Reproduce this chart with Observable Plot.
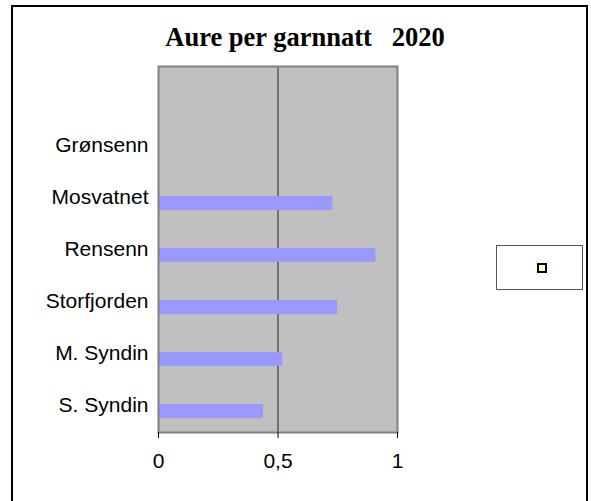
<!DOCTYPE html>
<html>
<head>
<meta charset="utf-8">
<script src="https://cdn.jsdelivr.net/npm/d3@7"></script>
<script src="https://cdn.jsdelivr.net/npm/@observablehq/plot@0.6"></script>
<style>
  html, body { margin: 0; padding: 0; background: #fff; }
  #wrap { position: relative; width: 591px; height: 501px; overflow: hidden; }
  #frame { position: absolute; left: 11px; top: 5px; width: 577px; height: 520px; border: 2px solid #000; box-sizing: border-box; }
  #title { position: absolute; left: 0; width: 610px; top: 22px; text-align: center; font-family: "Liberation Serif", "Times New Roman", serif; font-weight: bold; font-size: 26.5px; white-space: pre; color: #000; line-height: 30px; }
  #legend { position: absolute; left: 496px; top: 245px; width: 87px; height: 45px; border: 1px solid #555; box-sizing: border-box; background: #fff; }
  #legend .mk { position: absolute; left: 40px; top: 17px; width: 10px; height: 10px; background: #ffffcc; border: 2px solid #000; box-sizing: border-box; }
  #chart { position: absolute; left: 0; top: 0; }
</style>
</head>
<body>
<div id="wrap">
  <div id="frame"></div>
  <div id="chart"></div>
  <div id="title">Aure per garnnatt   2020</div>
  <div id="legend"><div class="mk"></div></div>
</div>
<script>
const lakes = ["", "Grønsenn", "Mosvatnet", "Rensenn", "Storfjorden", "M. Syndin", "S. Syndin"];
const values = [null, null, 0.73, 0.91, 0.75, 0.52, 0.44];
const xTicks = [0, 0.5, 1];

const data = lakes.map((lake, i) => ({lake, value: values[i]})).filter(d => d.value != null);
const fmt = d => String(d).replace(".", ",");

const chart = Plot.plot({
  width: 591,
  height: 501,
  marginLeft: 158,
  marginRight: 194,
  marginTop: 66,
  marginBottom: 69,
  style: {background: "transparent", fontFamily: "'Liberation Sans', Arial, sans-serif", fontSize: "17px", color: "#000"},
  x: {domain: [0, 1], label: null},
  y: {domain: lakes, padding: 0, label: null},
  marks: [
    Plot.frame({fill: "#c0c0c0", stroke: "none"}),
    Plot.ruleX([0.5], {stroke: "#222", strokeWidth: 1}),
    Plot.barX(data, {x: "value", y: "lake", fill: "#9999ff", insetTop: 25, insetBottom: 13}),
    Plot.frame({stroke: "#808080", strokeWidth: 2}),
    Plot.axisX({ticks: xTicks, tickFormat: fmt, tickSize: 6, tickPadding: 15, stroke: "#000", fontSize: 21, label: null}),
    Plot.axisY({tickSize: 0, tickPadding: 10, fontSize: 21, label: null})
  ]
});
document.getElementById("chart").appendChild(chart);
</script>
</body>
</html>
